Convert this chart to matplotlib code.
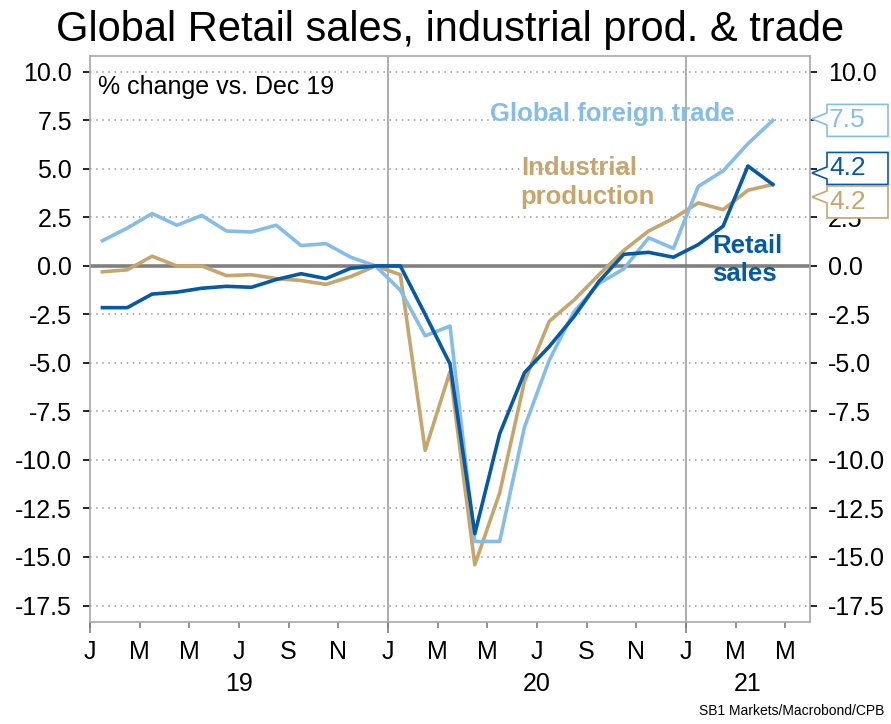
import numpy as np
import matplotlib
matplotlib.use("Agg")
import matplotlib.pyplot as plt
from matplotlib.patches import Polygon

plt.rcParams['font.family'] = ['Liberation Sans', 'DejaVu Sans']
plt.rcParams['axes.unicode_minus'] = False

# monthly data Jan 2019 - Apr 2021, % change vs Dec 19
months = ['2019-01', '2019-02', '2019-03', '2019-04', '2019-05', '2019-06', '2019-07',
          '2019-08', '2019-09', '2019-10', '2019-11', '2019-12', '2020-01', '2020-02',
          '2020-03', '2020-04', '2020-05', '2020-06', '2020-07', '2020-08', '2020-09',
          '2020-10', '2020-11', '2020-12', '2021-01', '2021-02', '2021-03', '2021-04']
trade = [1.3, 1.95, 2.7, 2.1, 2.6, 1.8, 1.75, 2.1, 1.05, 1.15, 0.45, 0.0,
         -1.25, -3.6, -3.1, -14.2, -14.2, -8.3, -4.85, -2.35, -0.9, -0.15,
         1.45, 0.9, 4.1, 4.9, 6.3, 7.5]
indprod = [-0.3, -0.2, 0.5, 0.0, 0.0, -0.5, -0.45, -0.65, -0.75, -0.95, -0.55, 0.0,
           -0.45, -9.5, -5.45, -15.4, -11.7, -5.95, -2.85, -1.75, -0.45, 0.8,
           1.8, 2.45, 3.25, 2.9, 3.9, 4.2]
retail = [-2.15, -2.15, -1.45, -1.35, -1.15, -1.05, -1.1, -0.7, -0.4, -0.65, -0.12, 0.0,
          0.0, -2.5, -5.05, -13.8, -8.65, -5.5, -4.15, -2.6, -0.8, 0.6,
          0.7, 0.45, 1.1, 2.05, 5.15, 4.2]
tick_labels = ['J', 'M', 'M', 'J', 'S', 'N', 'J', 'M', 'M', 'J', 'S', 'N', 'J', 'M', 'M']
year_labels = ['19', '20', '21']

c_trade = '#85bde8'
c_ind = '#c6a66c'
c_ret = '#0659a5'

x = np.arange(len(months)) + 0.5

fig = plt.figure(figsize=(8.91, 7.24), dpi=100)
ax = fig.add_axes([90/891, 1-622/724, 720/891, 566/724])

ax.set_xlim(0, 29)
ax.set_ylim(-18.35, 10.82)

yt = np.arange(-17.5, 10.01, 2.5)
for v in yt:
    if v != 0:
        ax.axhline(v, color='#999999', lw=1.1, ls=(0, (1, 3)), zorder=1)
ax.axhline(0, color='#808080', lw=2.6, zorder=2)
for v in [12, 24]:
    ax.axvline(v, color='#a0a0a0', lw=1.2, zorder=1)

ax.plot(x, indprod, color=c_ind, lw=2.6, zorder=3)
ax.plot(x, trade, color=c_trade, lw=2.6, zorder=4)
ax.plot(x, retail, color=c_ret, lw=2.6, zorder=5)

for s in ax.spines.values():
    s.set_color('#a8a8a8')
    s.set_linewidth(1.2)

ax.set_yticks(yt)
ax.set_yticklabels(['%.1f' % v for v in yt])
ax.tick_params(axis='y', which='both', direction='out', length=5, width=1.2,
               color='black', labelsize=18, left=True, right=True,
               labelleft=True, labelright=True, pad=8)

ax.set_xticks(np.arange(0, 29, 2))
ax.set_xticklabels(tick_labels)
ax.set_xticks([0, 12, 24], minor=True)
ax.xaxis.remove_overlapping_locs = False
ax.tick_params(axis='x', which='major', direction='out', length=4, width=1.2,
               color='#808080', labelsize=18, pad=9)
ax.tick_params(axis='x', which='minor', direction='out', length=8, width=1.2,
               color='#808080')

for lab, xm in zip(year_labels, [6, 18, 26.5]):
    ax.text(xm, -0.11, lab, transform=ax.get_xaxis_transform(),
            ha='center', va='center', fontsize=18)

ax.text(0.011, 0.966, '% change vs. Dec 19', transform=ax.transAxes,
        ha='left', va='top', fontsize=18)

ax.text(16.1, 7.85, 'Global foreign trade', color=c_trade, fontsize=18.5,
        fontweight='bold', ha='left', va='center')
ax.text(17.35, 4.3, 'Industrial\nproduction', color=c_ind, fontsize=18.5,
        fontweight='bold', ha='left', va='center', linespacing=1.28)
ax.text(25.05, 0.3, 'Retail\nsales', color=c_ret, fontsize=18.5,
        fontweight='bold', ha='left', va='center', linespacing=1.22)

fig.text(0.505, 1 - 30/724, 'Global Retail sales, industrial prod. & trade',
         ha='center', va='center', fontsize=30)
fig.text(0.993, 0.008, 'SB1 Markets/Macrobond/CPB', ha='right', va='bottom',
         fontsize=10)

# value callouts on the right edge
fig.canvas.draw()
callouts = [(trade[-1], c_trade, 0, 1.5), (retail[-1], c_ret, 16, 11.5),
            (indprod[-1], c_ind, -17.5, -12.5)]
for val, col, box_shift, tip_shift in callouts:
    px, py = ax.transData.transform((29, val))
    tip_x = px + 2
    tip_y = py + tip_shift
    cy = py + box_shift
    bl = px + 17
    br = 888
    h = 16
    verts = [(tip_x, tip_y), (bl, tip_y + 6), (bl, cy + h), (br, cy + h),
             (br, cy - h), (bl, cy - h), (bl, tip_y - 6)]
    poly = Polygon(verts, closed=True, transform=None, facecolor='white',
                   edgecolor=col, lw=1.2, zorder=10, clip_on=False)
    fig.add_artist(poly)
    fig.text((bl + 2) / 891, cy / 724, '%.1f' % val, color=col, fontsize=19,
             ha='left', va='center', zorder=11)

fig.savefig('out.png', dpi=100)
